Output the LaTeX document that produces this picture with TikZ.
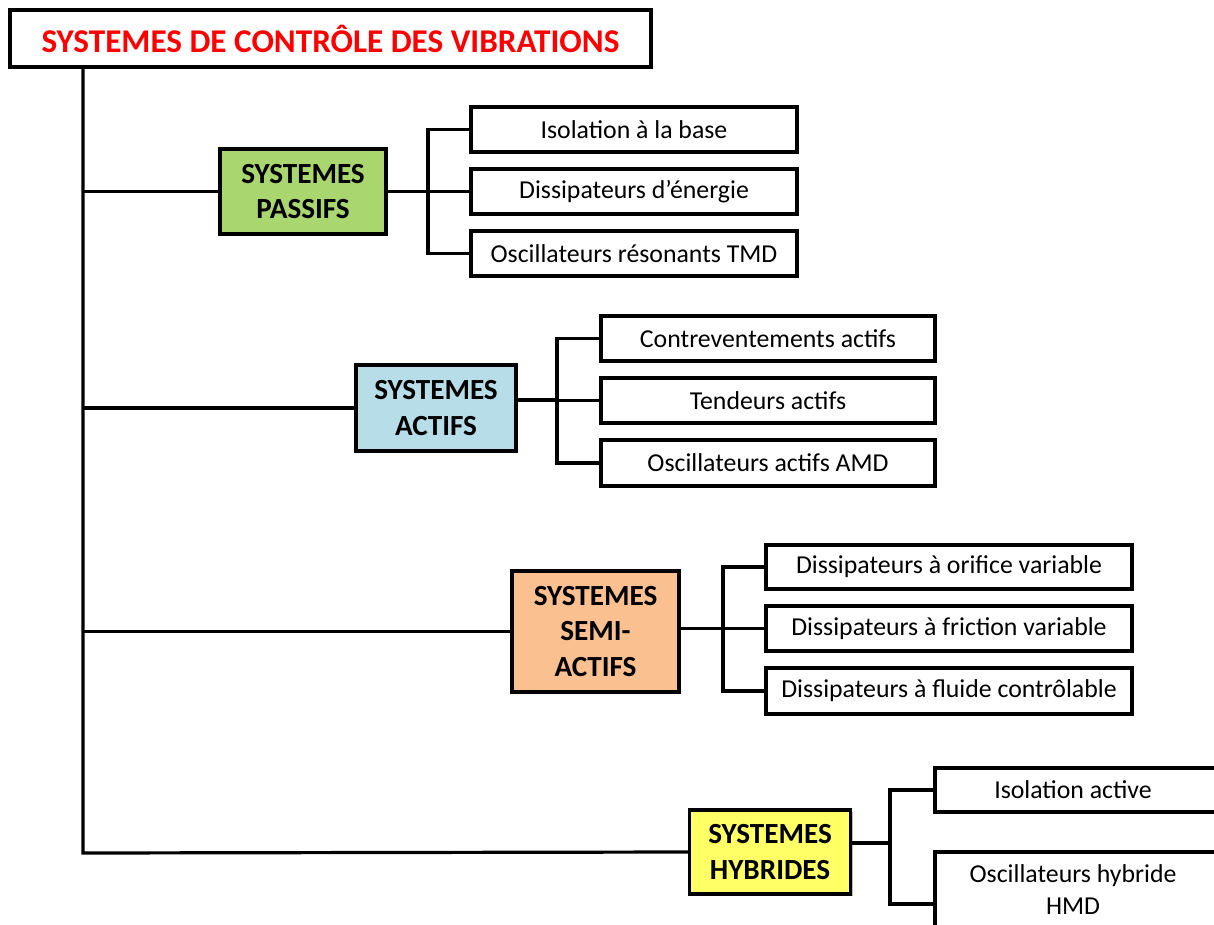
\documentclass[tikz,border=0pt]{standalone}
\usepackage{fontspec}
\setmainfont{Carlito}
\usetikzlibrary{shadows}
\definecolor{cpass}{RGB}{169,214,110}
\definecolor{cact}{RGB}{183,222,232}
\definecolor{csemi}{RGB}{250,192,144}
\definecolor{chyb}{RGB}{255,255,102}
\definecolor{ctitle}{RGB}{255,0,0}
\tikzset{
  base/.style={draw=black, line width=1.6pt, fill=white, inner sep=0pt, align=center,
    drop shadow={shadow xshift=1.2pt, shadow yshift=-1.2pt, opacity=0.25, fill=black}},
  leaf/.style={base, font=\fontsize{12.9}{16}\selectfont},
  cat/.style={base, font=\bfseries\fontsize{14.6}{17.7}\selectfont},
  link/.style={line width=1.6pt, black}
}
\begin{document}
\begin{tikzpicture}[x=0.5pt,y=-0.5pt]
\useasboundingbox (0,0) rectangle (1214,925);
\clip (0,0) rectangle (1214,925);
% title
\node[base, minimum width=320.5pt, minimum height=28.5pt, text=ctitle,
  font=\bfseries\fontsize{16.6}{19}\selectfont] (title) at (330.5,38.5) {SYSTEMES DE CONTRÔLE DES VIBRATIONS};
% categories
\node[cat, fill=cpass, minimum width=83pt, minimum height=42.5pt] (pass) at (303,191.5) {SYSTEMES\\PASSIFS};
\node[cat, fill=cact, minimum width=80pt, minimum height=43pt] (act) at (436,408) {SYSTEMES\\ACTIFS};
\node[cat, fill=csemi, minimum width=83.5pt, minimum height=60.5pt] (semi) at (595.5,631.5) {SYSTEMES\\SEMI-\\ACTIFS};
\node[cat, fill=chyb, minimum width=80.5pt, minimum height=42pt] (hyb) at (770,852) {SYSTEMES\\HYBRIDES};
% passive leaves
\node[leaf, minimum width=163pt, minimum height=22.5pt] (p1) at (634,129.5) {Isolation à la base};
\node[leaf, minimum width=163pt, minimum height=22.5pt] (p2) at (634,191.5) {Dissipateurs d’énergie};
\node[leaf, minimum width=163pt, minimum height=22.5pt] (p3) at (634,253.5) {Oscillateurs résonants TMD};
% active leaves
\node[leaf, minimum width=167pt, minimum height=22.5pt] (a1) at (768,338.5) {Contreventements actifs};
\node[leaf, minimum width=167pt, minimum height=22.5pt] (a2) at (768,400.5) {Tendeurs actifs};
\node[leaf, minimum width=167pt, minimum height=23pt] (a3) at (768,463) {Oscillateurs actifs AMD};
% semi-active leaves
\node[leaf, minimum width=183pt, minimum height=22pt] (s1) at (949,567) {Dissipateurs à orifice variable};
\node[leaf, minimum width=183pt, minimum height=22.5pt] (s2) at (949,628.5) {Dissipateurs à friction variable};
\node[leaf, minimum width=183pt, minimum height=23pt] (s3) at (949,691) {Dissipateurs à fluide contrôlable};
% hybrid leaves (cut off by the right edge)
\node[leaf, minimum width=148pt, minimum height=22pt] (h1) at (1083,790) {\hspace*{-10pt}Isolation active};
\node[leaf, minimum width=148pt, minimum height=38pt] (h2) at (1083,890) {\hspace*{-10pt}Oscillateurs hybride\\\hspace*{-10pt}HMD};
% trunk
\coordinate (t0) at (83,67);
\coordinate (tend) at (83,853);
\draw[link] (t0) -- (tend) -- (hyb.west);
\draw[link] (pass.west) -- (pass.west -| t0);
\draw[link] (act.west) -- (act.west -| t0);
\draw[link] (semi.west) -- (semi.west -| t0);
% passive bracket
\coordinate (bp) at (428,191.5);
\draw[link] (pass.east) -- (bp);
\draw[link] (p1.west) -| (bp) |- (p3.west);
\draw[link] (p2.west) -- (bp);
% active bracket
\coordinate (ba) at (557,400);
\draw[link] (act.east |- ba) -- (ba);
\draw[link] (a1.west) -| (ba) |- (a3.west);
\draw[link] (a2.west) -- (a2.west -| ba);
% semi bracket
\coordinate (bs) at (723,628.5);
\draw[link] (semi.east |- bs) -- (bs);
\draw[link] (s1.west) -| (bs) |- (s3.west);
\draw[link] (s2.west) -- (bs);
% hybrid bracket
\coordinate (bh) at (890,843);
\coordinate (bh2) at (890,904);
\draw[link] (hyb.east |- bh) -- (bh);
\draw[link] (h1.west) -| (bh) -- (bh2) -- (h2.west |- bh2);
\end{tikzpicture}
\end{document}
